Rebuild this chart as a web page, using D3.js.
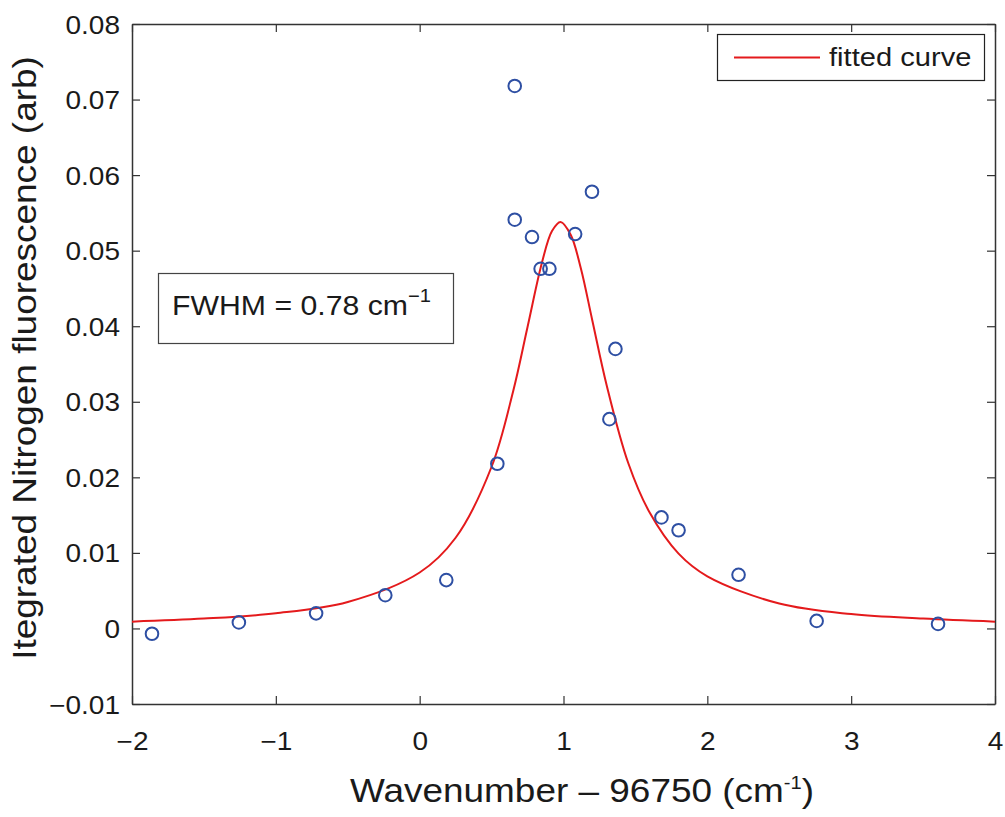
<!DOCTYPE html>
<html lang="en">
<meta charset="utf-8">
<head>
  <style>
    body { margin: 0; background: #fff; }
    svg { font-family: "Liberation Sans", Arial, sans-serif; }
    .tick-label { font-size: 25px; fill: #1a1a1a; }
  </style>
  <title></title>
</head>
<body>
<script src="https://cdn.jsdelivr.net/npm/d3@7"></script>
<script>
  // measured points (wavenumber offset, integrated fluorescence)
  const pointX = [-1.861, -1.257, -0.720, -0.239, 0.185, 0.540, 0.661, 0.661, 0.781,
                  0.841, 0.902, 1.081, 1.198, 1.361, 1.319, 1.681, 1.800, 2.217, 2.760, 3.604];
  const pointY = [-0.0007, 0.0008, 0.0020, 0.0044, 0.0064, 0.0218, 0.0718, 0.0541, 0.0518,
                  0.0476, 0.0476, 0.0522, 0.0578, 0.0370, 0.0277, 0.0147, 0.0130, 0.0071, 0.0010, 0.0006];

  // fitted curve
  const curveX = [-2, -1.5, -1, -0.5, 0, 0.25, 0.5, 0.65, 0.75, 0.85, 0.92, 0.98,
                  1.05, 1.12, 1.2, 1.3, 1.45, 1.6, 1.8, 2, 2.5, 3, 3.5, 4];
  const curveY = [0.0009, 0.0013, 0.0020, 0.0035, 0.0074, 0.0120, 0.0214, 0.0314, 0.0399,
                  0.0484, 0.0526, 0.0538, 0.0521, 0.0477, 0.0408, 0.0322, 0.0219, 0.0153,
                  0.0099, 0.0069, 0.0033, 0.0019, 0.0013, 0.0009];

  const xTicks = [-2, -1, 0, 1, 2, 3, 4];
  const yTicks = [-0.01, 0, 0.01, 0.02, 0.03, 0.04, 0.05, 0.06, 0.07, 0.08];

  const margin = {top: 24, right: 10, bottom: 113, left: 132},
        width = 1005 - margin.left - margin.right,
        height = 817 - margin.top - margin.bottom;

  // the original font is wider than Liberation Sans
  const sx = 1.12;

  const x = d3.scaleLinear().domain([-2, 4]).range([0, width]);
  const y = d3.scaleLinear().domain([-0.01, 0.08]).range([height, 0]);

  const fmtX = d => d < 0 ? "\u2212" + Math.abs(d) : String(d);
  const fmtY = d => d === 0 ? "0" : (d < 0 ? "\u2212" : "") + Math.abs(d).toFixed(2);

  const svg = d3.select("body").append("svg")
      .attr("width", 1005)
      .attr("height", 817);

  const g = svg.append("g")
      .attr("transform", "translate(" + margin.left + "," + margin.top + ")");

  const axisColor = "#333";

  // ticks pointing inward on all four sides
  const xAxisB = d3.axisBottom(x).tickValues(xTicks).tickSizeInner(-8).tickSizeOuter(0).tickFormat(fmtX);
  const xAxisT = d3.axisTop(x).tickValues(xTicks).tickSizeInner(-8).tickSizeOuter(0).tickFormat("");
  const yAxisL = d3.axisLeft(y).tickValues(yTicks).tickSizeInner(-8).tickSizeOuter(0).tickFormat(fmtY);
  const yAxisR = d3.axisRight(y).tickValues(yTicks).tickSizeInner(-8).tickSizeOuter(0).tickFormat("");

  function styleAxis(sel) {
    sel.select(".domain").attr("stroke", axisColor).attr("stroke-width", 1.5);
    sel.selectAll(".tick line").attr("stroke", axisColor).attr("stroke-width", 1.2);
    sel.selectAll(".tick text").attr("class", "tick-label").attr("font-family", null).attr("font-size", null);
  }

  g.append("g").attr("transform", "translate(0," + height + ")").call(xAxisB).call(styleAxis)
    .selectAll(".tick text")
      .attr("y", 46).attr("dy", 0)
      .attr("transform", "scale(" + sx + ",1)");
  g.append("g").call(xAxisT).call(styleAxis);
  g.append("g").call(yAxisL).call(styleAxis)
    .selectAll(".tick text")
      .attr("x", -12 / sx).attr("dy", "0.36em")
      .attr("transform", "scale(" + sx + ",1)");
  g.append("g").attr("transform", "translate(" + width + ",0)").call(yAxisR).call(styleAxis);

  // fitted curve
  const line = d3.line()
      .x(d => x(d[0]))
      .y(d => y(d[1]))
      .curve(d3.curveCatmullRom.alpha(0.5));

  g.append("path")
      .datum(d3.zip(curveX, curveY))
      .attr("fill", "none")
      .attr("stroke", "#e41a1c")
      .attr("stroke-width", 2)
      .attr("d", line);

  // data markers
  g.selectAll("circle.pt")
      .data(d3.zip(pointX, pointY))
      .enter().append("circle")
      .attr("class", "pt")
      .attr("cx", d => x(d[0]))
      .attr("cy", d => y(d[1]))
      .attr("r", 6.3)
      .attr("fill", "none")
      .attr("stroke", "#2e4fa3")
      .attr("stroke-width", 2);

  // places a horizontally widened text at (px, py)
  function wideText(parent, px, py, size) {
    return parent.append("text")
        .attr("transform", "translate(" + px + "," + py + ") scale(" + sx + ",1)")
        .attr("font-size", size)
        .attr("fill", "#1a1a1a");
  }

  // legend
  const leg = svg.append("g");
  leg.append("rect")
      .attr("x", 717.5).attr("y", 34.5).attr("width", 267).attr("height", 46)
      .attr("fill", "#fff").attr("stroke", "#222").attr("stroke-width", 1.2);
  leg.append("line")
      .attr("x1", 734).attr("x2", 820).attr("y1", 57.5).attr("y2", 57.5)
      .attr("stroke", "#e41a1c").attr("stroke-width", 2);
  wideText(leg, 829, 66, 26).text("fitted curve");

  // FWHM annotation
  const ann = svg.append("g");
  ann.append("rect")
      .attr("x", 158.5).attr("y", 273.5).attr("width", 295).attr("height", 70)
      .attr("fill", "#fff").attr("stroke", "#444").attr("stroke-width", 1.2);
  const annText = wideText(ann, 172, 315, 27);
  annText.append("tspan").text("FWHM = 0.78 cm");
  annText.append("tspan").attr("dy", -13).attr("font-size", 18).text("\u22121");

  // axis titles
  const xt = wideText(svg, 582, 802, 33).attr("text-anchor", "middle");
  xt.append("tspan").text("Wavenumber \u2013 96750 (cm");
  xt.append("tspan").attr("dy", -13).attr("font-size", 18).text("-1");
  xt.append("tspan").attr("dy", 13).text(")");

  svg.append("text")
      .attr("transform", "translate(36,358) rotate(-90) scale(" + sx + ",1)")
      .attr("text-anchor", "middle")
      .attr("font-size", 33).attr("fill", "#1a1a1a")
      .text("Itegrated Nitrogen fluorescence (arb)");
</script>
</body>
</html>
